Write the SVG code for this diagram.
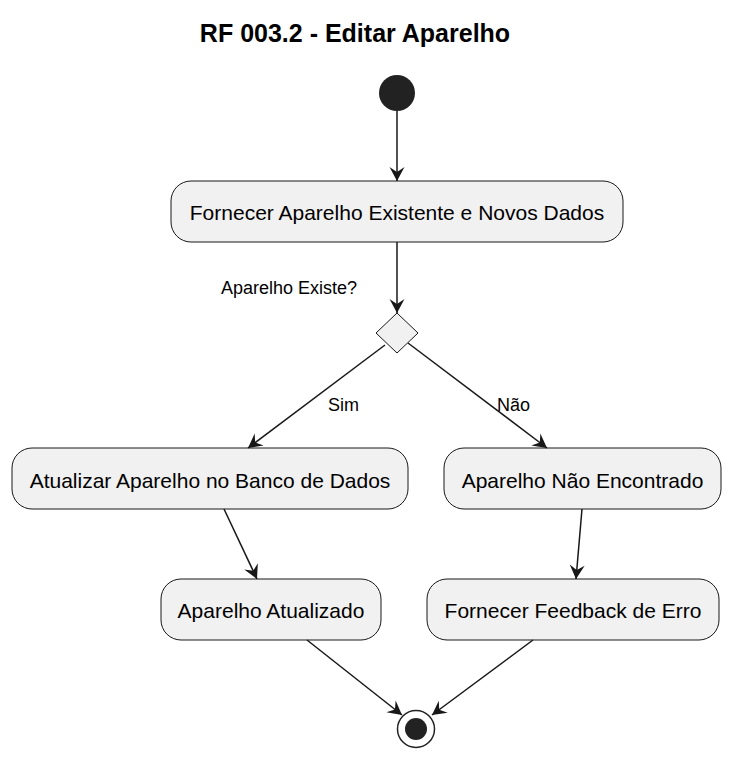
<svg xmlns="http://www.w3.org/2000/svg" width="730" height="757" viewBox="0 0 730 757">
<defs>
<style>
.box{fill:#F1F1F1;stroke:#181818;stroke-width:1}
.lbl{font-family:"Liberation Sans",Arial,sans-serif;font-size:21px;fill:#000;text-anchor:middle}
.el{font-family:"Liberation Sans",Arial,sans-serif;font-size:18px;fill:#000}
.ln{stroke:#181818;stroke-width:1.5;fill:none;marker-end:url(#ah)}
</style>
<marker id="ah" markerUnits="userSpaceOnUse" viewBox="-16 -9 18 18" refX="0" refY="0" markerWidth="18" markerHeight="18" orient="auto">
<path d="M0,0 L-14,-7.5 L-9,0 L-14,7.5 Z" fill="#181818"/>
</marker>
</defs>
<rect width="730" height="757" fill="#FFFFFF"/>
<text x="355" y="42" font-family="'Liberation Sans',Arial,sans-serif" font-size="25" font-weight="bold" text-anchor="middle">RF 003.2 - Editar Aparelho</text>
<g id="start"><circle cx="397" cy="93" r="18" fill="#222222"/></g>
<g id="n1"><rect class="box" x="171" y="181" width="452" height="61" rx="20"/><text class="lbl" x="397" y="220">Fornecer Aparelho Existente e Novos Dados</text></g>
<g id="decision"><polygon points="397,313 418,333 397,353 376,333" fill="#F1F1F1" stroke="#181818" stroke-width="1"/><text class="el" x="221" y="294">Aparelho Existe?</text></g>
<g id="n2"><rect class="box" x="12" y="448" width="396" height="61" rx="20"/><text class="lbl" x="210" y="488">Atualizar Aparelho no Banco de Dados</text></g>
<g id="n3"><rect class="box" x="444" y="448" width="277" height="61" rx="20"/><text class="lbl" x="582.5" y="488">Aparelho Não Encontrado</text></g>
<g id="n4"><rect class="box" x="161" y="579" width="220" height="61" rx="20"/><text class="lbl" x="271" y="618">Aparelho Atualizado</text></g>
<g id="n5"><rect class="box" x="427" y="579" width="292" height="61" rx="20"/><text class="lbl" x="573" y="618">Fornecer Feedback de Erro</text></g>
<g id="end"><circle cx="416" cy="729" r="18.5" fill="#FFFFFF" stroke="#222222" stroke-width="1.5"/><circle cx="416" cy="729" r="11" fill="#222222"/></g>
<g id="connectors">
<line class="ln" x1="397" y1="111" x2="397" y2="181"/>
<line class="ln" x1="397" y1="242" x2="397" y2="313"/>
<line class="ln" x1="385" y1="345" x2="248" y2="448"/>
<line class="ln" x1="408" y1="343" x2="547" y2="448"/>
<line class="ln" x1="224" y1="509" x2="257" y2="579"/>
<line class="ln" x1="582" y1="509" x2="576" y2="579"/>
<line class="ln" x1="307" y1="640" x2="402" y2="715"/>
<line class="ln" x1="533" y1="640" x2="432" y2="715"/>
<text class="el" x="328" y="411">Sim</text>
<text class="el" x="497" y="411">Não</text>
</g>
</svg>
